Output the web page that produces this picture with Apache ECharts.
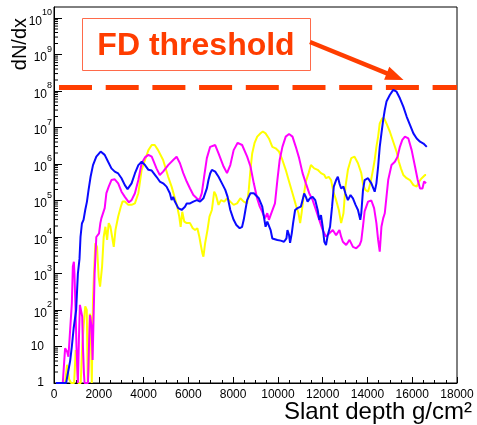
<!DOCTYPE html>
<html><head><meta charset="utf-8">
<script src="https://cdn.jsdelivr.net/npm/echarts@6/dist/echarts.min.js"></script>
<style>html,body{margin:0;padding:0;background:#fff}#c{width:477px;height:425px}</style>
</head><body><div id="c"></div>
<script>
// Slant depth (g/cm^2) and log10(dN/dx)
var blueDepth = [90,540,630,720,797,878,990,1067,1139,1184,1247,1319,1395,1472,1544,1634,1742,1890,2084,2264,2417,2565,2714,2867,3015,3164,3285,3465,3614,3767,3915,4064,4217,4365,4577,4725,4874,5027,5175,5252,5324,5400,5477,5549,5702,5774,5850,5927,6075,6224,6377,6525,6674,6827,6899,6975,7052,7200,7349,7502,7650,7754,7875,8024,8145,8294,8402,8474,8550,8627,8775,8924,9000,9149,9302,9374,9450,9527,9599,9675,9752,9824,9977,10125,10274,10382,10427,10499,10544,10620,10679,10769,10877,11025,11102,11174,11250,11327,11430,11552,11669,11777,11849,11925,12002,12074,12150,12227,12330,12420,12497,12600,12677,12749,12825,12929,13019,13127,13244,13352,13469,13577,13680,13725,13802,13874,14027,14175,14324,14400,14477,14549,14625,14702,14774,14850,14999,15152,15300,15449,15602,15750,15899,16052,16200,16349,16502,16650];
var blueLog = [0,0,0.3,0.6,1.0,1.5,2.0,3.0,3.4,4.0,4.37,4.47,4.74,4.97,5.29,5.65,5.97,6.2,6.34,6.25,6.06,5.88,5.79,5.74,5.61,5.42,5.31,5.47,5.74,5.97,6.06,5.97,5.84,5.82,5.65,5.52,5.47,5.38,5.2,5.01,5.1,4.97,4.88,4.79,4.74,4.69,4.83,4.92,4.92,4.97,5.01,4.97,5.06,5.33,5.56,5.74,5.84,5.79,5.65,5.47,5.29,5.1,4.74,4.47,4.33,4.24,4.28,4.47,4.74,5.01,5.2,5.2,5.24,5.06,4.83,4.56,4.28,4.42,4.47,4.19,3.96,3.92,3.92,3.9,3.87,3.96,4.19,4.05,3.84,4.1,4.38,4.74,4.79,4.83,5.01,5.19,5.1,4.97,5.06,5.1,5.01,4.74,4.47,4.6,4.28,3.87,3.78,4.05,4.28,4.83,5.38,5.56,5.65,5.47,5.33,5.38,5.19,5.01,5.15,5.06,4.88,4.74,4.47,4.65,5.29,5.56,5.61,5.47,5.24,5.47,5.93,6.47,6.84,7.2,7.48,7.71,7.89,8.03,7.98,7.8,7.57,7.3,7.07,6.84,6.7,6.61,6.56,6.47];

var magentaDepth = [392,495,585,644,720,797,842,887,914,959,1004,1067,1094,1112,1157,1215,1260,1292,1337,1364,1517,1562,1607,1652,1679,1724,1769,1814,1890,2012,2070,2115,2192,2264,2340,2444,2565,2714,2867,3015,3164,3344,3465,3614,3767,3915,4064,4217,4365,4424,4577,4725,4874,5099,5324,5477,5625,5774,5927,6075,6224,6377,6494,6602,6705,6827,6975,7200,7349,7574,7727,7875,8024,8204,8402,8627,8775,8924,9077,9180,9302,9419,9527,9599,9675,9752,9869,9977,10080,10202,10350,10499,10652,10800,10949,11102,11250,11399,11552,11700,11849,12002,12150,12299,12452,12600,12749,12825,12902,13050,13199,13352,13500,13649,13725,13802,13874,14027,14175,14297,14400,14477,14549,14625,14702,14774,14850,14927,15075,15224,15345,15449,15557,15674,15827,15975,16124,16245,16349,16457,16529,16619];
var magentaLog = [0,0.95,0.86,0.72,1.45,2.18,3.19,3.32,3.0,2.09,1.0,0,0,1.18,2.14,2.18,1.82,1.0,0.27,0,0,1.0,1.86,1.82,1.54,0.63,1.82,3.0,4.0,4.1,4.38,4.51,4.47,4.79,5.2,5.38,5.56,5.58,5.47,5.24,5.1,4.95,5.01,5.2,5.56,6.02,6.18,6.25,6.2,6.11,5.88,5.7,5.79,5.97,6.11,6.2,6.02,5.75,5.52,5.33,5.15,5.06,5.01,5.2,5.65,6.16,6.47,6.52,6.29,5.93,5.75,5.97,6.38,6.58,6.52,6.2,5.93,5.47,5.05,4.85,4.69,4.51,4.65,4.47,4.6,4.56,4.92,5.56,6.11,6.47,6.75,6.82,6.75,6.47,6.16,5.75,5.47,5.2,5.01,4.74,4.47,4.19,4.01,4.1,4.19,4.05,4.19,4.01,3.87,3.78,3.92,3.73,3.69,3.78,3.9,4.3,4.7,4.97,5.0,4.79,4.38,3.92,3.6,4.28,4.51,4.65,5.1,5.56,5.97,6.06,6.2,6.47,6.66,6.75,6.7,6.38,5.93,5.56,5.33,5.33,5.52,5.47];

var yellowDepth = [495,585,675,765,900,968,1035,1080,1193,1260,1328,1395,1463,1508,1553,1598,1643,1688,1742,1787,1845,1922,1994,2057,2147,2219,2295,2372,2444,2520,2597,2669,2745,2867,2984,3060,3164,3317,3465,3614,3767,3915,4064,4217,4365,4500,4649,4874,5099,5252,5400,5504,5594,5657,5729,5819,5927,6075,6197,6300,6404,6494,6557,6629,6674,6750,6854,6944,7052,7155,7232,7349,7457,7605,7727,7875,8024,8177,8325,8474,8627,8699,8775,8852,8955,9077,9225,9329,9450,9599,9752,9900,10049,10202,10350,10499,10652,10800,10922,10994,11057,11147,11250,11372,11475,11624,11777,11925,12074,12150,12272,12375,12479,12600,12722,12825,12929,13019,13127,13275,13424,13577,13725,13802,13905,14027,14130,14220,14324,14400,14477,14549,14657,14747,14850,14999,15152,15300,15404,15494,15602,15750,15899,16052,16200,16304,16425,16574,16619];
var yellowLog = [0,0.5,0.1,0,0,0.9,0.4,0,0,1.0,1.6,2.1,2.0,0,0.4,1.9,1.8,0,2.27,3.0,3.83,3.73,2.91,2.64,3.19,4.0,4.28,3.92,4.38,4.28,4.0,3.73,4.19,4.56,4.83,4.97,4.97,4.88,4.88,4.92,5.2,5.84,6.11,6.38,6.52,6.52,6.38,6.11,5.65,5.38,5.06,4.83,4.56,4.28,4.69,4.42,4.38,4.38,4.24,4.19,4.24,4.0,3.78,3.55,3.46,3.83,4.19,4.56,4.74,5.24,5.15,4.88,5.01,4.97,5.06,4.97,4.88,4.92,5.06,4.97,4.92,5.29,5.84,6.29,6.57,6.75,6.84,6.89,6.84,6.7,6.47,6.43,6.34,6.11,5.84,5.52,5.2,4.88,4.65,4.38,4.65,5.1,5.52,5.75,5.97,5.88,5.84,5.75,5.7,5.61,5.65,5.56,5.24,5.01,4.74,4.38,4.65,5.38,5.84,6.16,6.2,6.02,5.75,5.45,5.29,5.24,5.47,5.75,6.11,6.47,6.75,7.11,7.25,7.25,7.11,6.89,6.61,6.34,6.06,5.88,5.7,5.61,5.56,5.42,5.38,5.52,5.61,5.7,5.7];

var thresholdLog = 8.11;           // FD threshold, log10(dN/dx)
var xTicks = [0,2000,4000,6000,8000,10000,12000,14000,16000,18000];
var yDecades = [0,1,2,3,4,5,6,7,8,9,10];
var yMaxLog = 10.301;

function pairs(xs, ys){ var o=[]; for(var i=0;i<xs.length;i++) o.push([xs[i], ys[i]]); return o; }

var minorVals = [];
yDecades.forEach(function(k){ for(var m=2;m<=9;m++){ var v=k+Math.log10(m); if(v<yMaxLog) minorVals.push([0,v]); } });

var FONT = 'Liberation Sans, Helvetica, Arial, sans-serif';
var RED = '#ff3d00';
var chart = echarts.init(document.getElementById('c'), null, {renderer:'canvas'});
var option = {
  animation:false,
  backgroundColor:'#fff',
  grid:{left:54,right:20,top:7,bottom:42,show:true,borderColor:'#000',borderWidth:1,backgroundColor:'transparent'},
  xAxis:{type:'value',min:xTicks[0],max:xTicks[xTicks.length-1],interval:2000,
    axisLine:{lineStyle:{color:'#000',width:1}},
    axisTick:{inside:true,length:6,lineStyle:{color:'#000'}},
    minorTick:{show:true,splitNumber:4,length:3,lineStyle:{color:'#000'}},
    splitLine:{show:false},
    axisLabel:{color:'#000',fontSize:12,fontFamily:FONT,margin:6,showMaxLabel:true,
      formatter:function(v){ return String(Math.round(v)); }}
  },
  yAxis:{type:'value',min:0,max:yMaxLog,interval:1,
    axisLine:{lineStyle:{color:'#000',width:1}},
    axisTick:{inside:true,length:8,lineStyle:{color:'#000'}},
    splitLine:{show:false},
    axisLabel:{color:'#000',fontFamily:FONT,margin:2,showMaxLabel:false,
      formatter:function(v){
        var r=Math.round(v); if(Math.abs(v-r)>1e-6) return '';
        if(r===0) return '{c|1}{p| }';
        if(r===1) return '{c|10}{p| }';
        return '{b|10}{s|'+r+'}';
      },
      rich:{
        c:{fontSize:12,lineHeight:12,fontFamily:FONT,color:'#000'},
        p:{fontSize:9,lineHeight:12,width:8},
        b:{fontSize:12,lineHeight:12,padding:[9,0,0,0],verticalAlign:'bottom',fontFamily:FONT,color:'#000'},
        s:{fontSize:9,lineHeight:19,verticalAlign:'top',fontFamily:FONT,color:'#000'}
      }
    }
  },
  series:[
    {type:'custom',coordinateSystem:'cartesian2d',silent:true,clip:false,data:minorVals,
      renderItem:function(params,api){ var p=api.coord([api.value(0),api.value(1)]);
        return {type:'line',shape:{x1:p[0],y1:p[1],x2:p[0]+4,y2:p[1]},style:{stroke:'#000',lineWidth:1}}; }},
    {type:'line',name:'yellow',data:pairs(yellowDepth,yellowLog),showSymbol:false,symbol:'none',lineStyle:{color:'#ffff00',width:2},z:3},
    {type:'line',name:'magenta',data:pairs(magentaDepth,magentaLog),showSymbol:false,symbol:'none',lineStyle:{color:'#ff00ff',width:2},z:4},
    {type:'line',name:'blue',data:pairs(blueDepth,blueLog),showSymbol:false,symbol:'none',lineStyle:{color:'#0a0aff',width:2},z:5,
      markLine:{silent:true,symbol:['none','none'],label:{show:false},
        lineStyle:{color:RED,width:5,type:[33,13.7],dashOffset:41.7},
        data:[{yAxis:thresholdLog}]}}
  ],
  graphic:[
    {type:'text',z:100,style:{text:'Slant depth g/cm²',x:472,y:412,align:'right',verticalAlign:'middle',font:'24px '+FONT,fill:'#000'}},
    {type:'text',z:100,x:20,y:18,rotation:Math.PI/2,style:{text:'dN/dx',x:0,y:0,align:'right',verticalAlign:'middle',font:'20px '+FONT,fill:'#000'}},
    {type:'rect',z:100,shape:{x:82.5,y:18.5,width:228,height:52},style:{fill:'#fff',stroke:'#ff6a4a',lineWidth:1}},
    {type:'text',z:101,style:{text:'FD threshold',x:196,y:46,align:'center',verticalAlign:'middle',font:'bold 32px '+FONT,fill:RED}},
    {type:'line',z:100,shape:{x1:310,y1:42,x2:390,y2:74.6},style:{stroke:RED,lineWidth:4.5}},
    {type:'polygon',z:100,shape:{points:[[403.5,80],[384.1,79.7],[389.3,66.7]]},style:{fill:RED}}
  ]
};
chart.setOption(option);
</script>
</body></html>
